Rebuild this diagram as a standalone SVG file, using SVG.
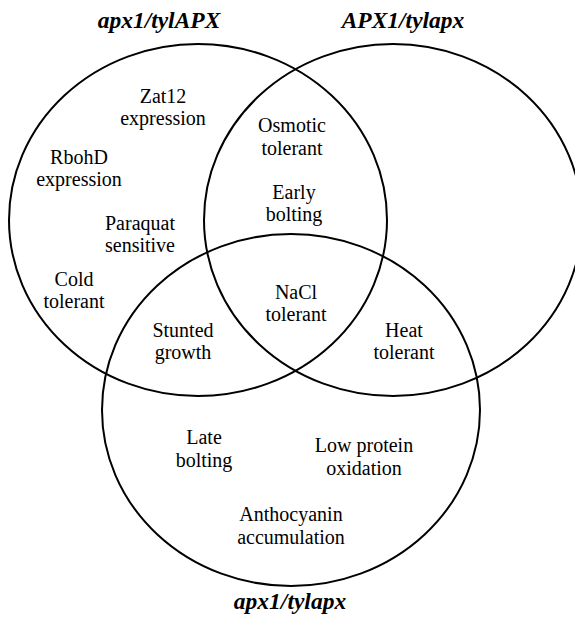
<svg xmlns="http://www.w3.org/2000/svg" width="575" height="620" viewBox="0 0 575 620">
<style>
.set{fill:none;stroke:#000;stroke-width:2}
.t{font-family:"Liberation Serif","Times New Roman",serif;font-size:20px;fill:#000;text-anchor:middle}
.lab{font-family:"Liberation Serif","Times New Roman",serif;font-size:23.5px;font-weight:bold;font-style:italic;fill:#000;text-anchor:middle}
</style>
<rect width="575" height="620" fill="#fff"/>
<g id="set-apx1-tylAPX">
<ellipse class="set" cx="198" cy="220" rx="189" ry="176"/>
<text class="lab" x="159" y="28">apx1/tylAPX</text>
</g>
<g id="set-APX1-tylapx">
<ellipse class="set" cx="393" cy="220" rx="189" ry="176"/>
<text class="lab" x="403" y="28">APX1/tylapx</text>
</g>
<g id="set-apx1-tylapx">
<ellipse class="set" cx="291" cy="410" rx="189" ry="176"/>
<text class="lab" x="290" y="609">apx1/tylapx</text>
</g>
<g id="zat12"><text class="t" x="163" y="103">Zat12</text><text class="t" x="163" y="125">expression</text></g>
<g id="osmotic"><text class="t" x="292" y="132">Osmotic</text><text class="t" x="292" y="155">tolerant</text></g>
<g id="rbohd"><text class="t" x="79" y="164">RbohD</text><text class="t" x="79" y="186">expression</text></g>
<g id="early"><text class="t" x="294" y="199">Early</text><text class="t" x="294" y="221">bolting</text></g>
<g id="paraquat"><text class="t" x="140" y="230">Paraquat</text><text class="t" x="140" y="252">sensitive</text></g>
<g id="cold"><text class="t" x="74" y="286">Cold</text><text class="t" x="74" y="308">tolerant</text></g>
<g id="nacl"><text class="t" x="296" y="299">NaCl</text><text class="t" x="296" y="321">tolerant</text></g>
<g id="stunted"><text class="t" x="183" y="337">Stunted</text><text class="t" x="183" y="359">growth</text></g>
<g id="heat"><text class="t" x="404" y="337">Heat</text><text class="t" x="404" y="359">tolerant</text></g>
<g id="late"><text class="t" x="204" y="444">Late</text><text class="t" x="204" y="467">bolting</text></g>
<g id="lowprot"><text class="t" x="364" y="452">Low protein</text><text class="t" x="364" y="475">oxidation</text></g>
<g id="antho"><text class="t" x="291" y="521">Anthocyanin</text><text class="t" x="291" y="544">accumulation</text></g>
<g id="connectors"></g>
</svg>
